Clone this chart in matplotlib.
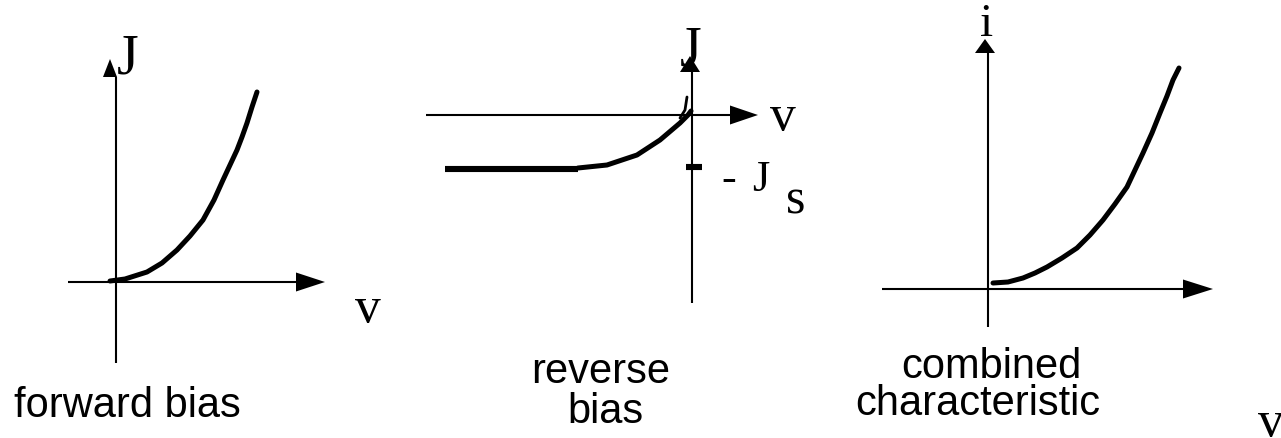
import numpy as np
import matplotlib.pyplot as plt

W, H = 1281, 438

# forward bias curve (v, J), origin at the axis crossing
fwd_v = [-6, 9, 31, 46, 61, 74, 87, 98, 107, 114, 121, 126, 131, 136, 141]
fwd_J = [1, 3, 10, 19, 32, 46, 62, 82, 102, 117, 132, 145, 159, 175, 190]

# reverse bias: flat saturation part, then the knee up to the origin
rev_flat_v = [-247, -114]
rev_flat_J = [-54, -54]
rev_knee_v = [-114, -85, -55, -32, -12, -4, -1]
rev_knee_J = [-53, -50, -40, -25, -8, 0, 4]
rev_hook_v = [-12, -7, -5]
rev_hook_J = [-3, 5, 18]
js_level = -52

# combined characteristic (v, i)
comb_v = [5, 20, 35, 47, 59, 74, 89, 102, 115, 127, 139, 155, 164, 172, 179, 185, 191]
comb_i = [6, 7, 11, 16, 22, 31, 41, 54, 69, 85, 102, 136, 156, 176, 193, 209, 221]

titles = ['forward bias', 'reverse\nbias', 'combined\ncharacteristic']

plt.rcParams['font.family'] = ['Liberation Sans', 'DejaVu Sans']
SERIF = ['Liberation Serif', 'DejaVu Serif']

fig = plt.figure(figsize=(W / 100, H / 100), dpi=100)


def panel(ox, oy):
    """Axes covering the whole figure, 1 unit = 1 px, origin at (ox, oy) from top-left."""
    ax = fig.add_axes([0, 0, 1, 1])
    ax.set_xlim(-ox, W - ox)
    ax.set_ylim(-(H - oy), oy)
    ax.set_facecolor('none')
    ax.axis('off')
    return ax


def axes_cross(ax, left, right, bottom, top, h_len, h_half, v_cx, v_len, v_half):
    ax.plot([left, right - h_len], [0, 0], color='black', lw=1.5, solid_capstyle='butt')
    ax.fill([right - h_len, right, right - h_len], [h_half, 0, -h_half], color='black', lw=0)
    ax.plot([0, 0], [bottom, top - v_len], color='black', lw=1.5, solid_capstyle='butt')
    ax.fill([v_cx - v_half, v_cx, v_cx + v_half], [top - v_len, top, top - v_len],
            color='black', lw=0)


# forward bias
ax1 = panel(116, 282)
axes_cross(ax1, -48, 209, -81, 223, 29, 9.5, -6, 18, 7)
ax1.plot(fwd_v, fwd_J, color='black', lw=3.6, solid_capstyle='round', solid_joinstyle='round')
ax1.text(12, 208, 'J', family=SERIF, fontsize=40, ha='center', va='baseline')
ax1.text(252, -40, 'v', family=SERIF, fontsize=37, ha='center', va='baseline')
ax1.text(11, -135, titles[0], fontsize=30, ha='center', va='baseline')

# reverse bias
ax2 = panel(692, 115)
axes_cross(ax2, -266, 66, -188, 59, 28, 9.5, -2, 16, 10)
ax2.plot(rev_flat_v, rev_flat_J, color='black', lw=4.4, solid_capstyle='butt')
ax2.plot(rev_knee_v, rev_knee_J, color='black', lw=3.6, solid_capstyle='round',
         solid_joinstyle='round')
ax2.plot(rev_hook_v, rev_hook_J, color='black', lw=2.0, solid_capstyle='round')
ax2.plot([-6, 10], [js_level, js_level], color='black', lw=4.4, solid_capstyle='butt')
ax2.text(-1, 50, 'J', family=SERIF, fontsize=40, ha='center', va='baseline')
ax2.text(91, -15, 'v', family=SERIF, fontsize=37, ha='center', va='baseline')
ax2.text(37, -76, '-', family=SERIF, fontsize=32, ha='center', va='baseline')
ax2.text(69, -76, 'J', family=SERIF, fontsize=32, ha='center', va='baseline')
ax2.text(104, -98, 's', family=SERIF, fontsize=36, ha='center', va='baseline')
rev_top, rev_bot = titles[1].split('\n')
ax2.text(-91, -268, rev_top, fontsize=30, ha='center', va='baseline')
ax2.text(-87, -308, rev_bot, fontsize=30, ha='center', va='baseline')

# combined characteristic
ax3 = panel(988, 289)
axes_cross(ax3, -106, 225, -38, 250, 30, 9.5, -3, 14, 10)
ax3.plot(comb_v, comb_i, color='black', lw=3.6, solid_capstyle='round', solid_joinstyle='round')
ax3.text(-1, 253, 'i', family=SERIF, fontsize=34, ha='center', va='baseline')
ax3.text(283, -147, 'v', family=SERIF, fontsize=37, ha='center', va='baseline')
comb_top, comb_bot = titles[2].split('\n')
ax3.text(3, -89, comb_top, fontsize=30, ha='center', va='baseline')
ax3.text(-10, -126, comb_bot, fontsize=30, ha='center', va='baseline')

fig.savefig('out.png', dpi=100)
